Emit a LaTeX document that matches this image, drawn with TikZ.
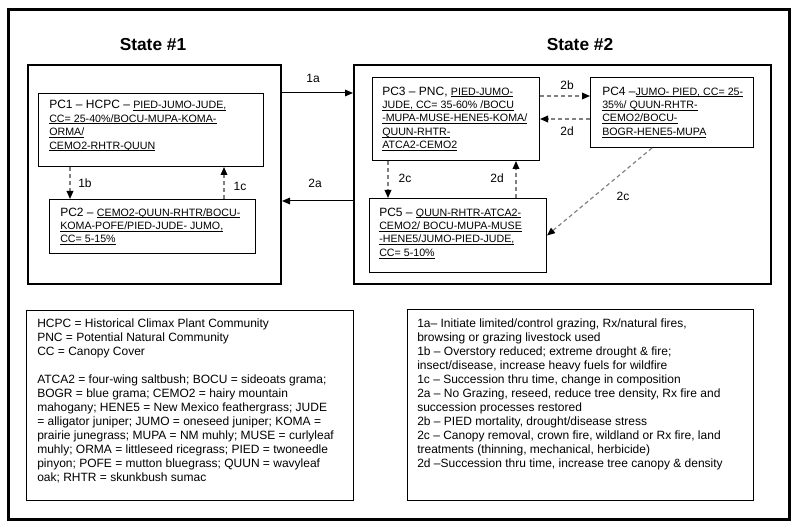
\documentclass[tikz,border=0pt]{standalone}
\usepackage{fontspec}
\setmainfont{Liberation Sans}
\usetikzlibrary{arrows.meta}
\newcommand{\ulx}[1]{\setbox0\hbox{#1}\rlap{\rule[-1.3pt]{\wd0}{0.45pt}}\box0}
\begin{document}
\begin{tikzpicture}[x=0.75pt,y=-0.75pt,
 box/.style={draw, line width=0.75pt, inner sep=0, anchor=north west},
 statebox/.style={draw, line width=1.5pt, inner sep=0, anchor=north west},
 pctext/.style={anchor=north west, inner sep=0, align=left, font=\fontsize{8}{10.1}\selectfont},
 legtext/.style={anchor=north west, inner sep=0, align=left, font=\fontsize{9}{10.5}\selectfont},
 lbl/.style={font=\fontsize{9}{10}\selectfont, inner sep=0},
 titletext/.style={font=\bfseries\fontsize{13}{15}\selectfont, inner sep=0},
 solidarrow/.style={line width=0.75pt, -{Triangle[length=6pt,width=5pt]}},
 dasharrow/.style={draw=black!50, line width=0.9pt, dash pattern=on 3pt off 2.2pt, -{Triangle[length=6pt,width=5pt,color=black]}},
]
\useasboundingbox (0,0) rectangle (800,531);
\draw[line width=2.25pt] (8,10) rectangle (789,519);

% titles
\node[titletext] (st1) at (153,45) {State \#1};
\node[titletext] (st2) at (580,45) {State \#2};

% state boxes
\node[statebox, minimum width=189.75pt, minimum height=164.25pt] (s1) at (27,64) {};
\node[statebox, minimum width=312.75pt, minimum height=164.25pt] (s2) at (353,64) {};

% plant community boxes
\node[box, minimum width=168.75pt, minimum height=54.75pt] (pc1) at (38,93) {};
\node[box, minimum width=154.5pt, minimum height=40.5pt] (pc2) at (49,199) {};
\node[box, minimum width=125.25pt, minimum height=62.25pt] (pc3) at (372,77) {};
\node[box, minimum width=122.25pt, minimum height=52.5pt] (pc4) at (590,77) {};
\node[box, minimum width=132.75pt, minimum height=55.5pt] (pc5) at (369,198) {};

\node[pctext] (t1) at ([shift={(11,7)}]pc1.north west) {{\fontsize{9}{10.1}\selectfont PC1 – HCPC – }\ulx{PIED-JUMO-JUDE,}\\
\ulx{CC= 25-40\%/BOCU-MUPA-KOMA-}\\
\ulx{ORMA/}\\
\ulx{CEMO2-RHTR-QUUN}};

\node[pctext] (t2) at ([shift={(11,8.4)}]pc2.north west) {{\fontsize{9}{10.1}\selectfont PC2 – }\ulx{CEMO2-QUUN-RHTR/BOCU-}\\
\ulx{KOMA-POFE/PIED-JUDE- JUMO,}\\
\ulx{CC= 5-15\%}};

\node[pctext] (t3) at ([shift={(10,9.4)}]pc3.north west) {{\fontsize{9}{10.1}\selectfont PC3 – PNC, }\ulx{PIED-JUMO-}\\
\ulx{JUDE, CC= 35-60\% /BOCU}\\
\ulx{-MUPA-MUSE-HENE5-KOMA/}\\
\ulx{QUUN-RHTR-}\\
\ulx{ATCA2-CEMO2}};

\node[pctext] (t4) at ([shift={(12,9.4)}]pc4.north west) {{\fontsize{9}{10.1}\selectfont PC4 –}\ulx{JUMO- PIED, CC= 25-}\\
\ulx{35\%/ QUUN-RHTR-}\\
\ulx{CEMO2/BOCU-}\\
\ulx{BOGR-HENE5-MUPA}};

\node[pctext] (t5) at ([shift={(10,9.4)}]pc5.north west) {{\fontsize{9}{10.1}\selectfont PC5 – }\ulx{QUUN-RHTR-ATCA2-}\\
\ulx{CEMO2/ BOCU-MUPA-MUSE}\\
\ulx{-HENE5/JUMO-PIED-JUDE,}\\
\ulx{CC= 5-10\%}};

% legends
\node[box, minimum width=245.25pt, minimum height=142.5pt] (l1) at (26,310) {};
\node[box, minimum width=259.5pt, minimum height=143.25pt] (l2) at (407,309) {};

\node[legtext] (lt1) at ([shift={(11,8.4)}]l1.north west) {HCPC = Historical Climax Plant Community\\
PNC = Potential Natural Community\\
CC = Canopy Cover\\[10.5pt]
ATCA2 = four-wing saltbush; BOCU = sideoats grama;\\
BOGR = blue grama; CEMO2 = hairy mountain\\
mahogany; HENE5 = New Mexico feathergrass; JUDE\\
= alligator juniper; JUMO = oneseed juniper; KOMA =\\
prairie junegrass; MUPA = NM muhly; MUSE = curlyleaf\\
muhly; ORMA = littleseed ricegrass; PIED = twoneedle\\
pinyon; POFE = mutton bluegrass; QUUN = wavyleaf\\
oak; RHTR = skunkbush sumac};

\node[legtext] (lt2) at ([shift={(10,9.4)}]l2.north west) {1a– Initiate limited/control grazing, Rx/natural fires,\\
browsing or grazing livestock used\\
1b – Overstory reduced; extreme drought \& fire;\\
insect/disease, increase heavy fuels for wildfire\\
1c – Succession thru time, change in composition\\
2a – No Grazing, reseed, reduce tree density, Rx fire and\\
succession processes restored\\
2b – PIED mortality, drought/disease stress\\
2c – Canopy removal, crown fire, wildland or Rx fire, land\\
treatments (thinning, mechanical, herbicide)\\
2d –Succession thru time, increase tree canopy \& density};

% helper coordinates
\coordinate (y201) at (0,201);
\coordinate (y96) at (0,96);
\coordinate (y119) at (0,119);
\coordinate (x70) at (70,0);
\coordinate (x224) at (224,0);
\coordinate (x388) at (388,0);
\coordinate (x516) at (516,0);
\coordinate (x652) at (652,0);

% connectors
\draw[solidarrow] (s1.east |- pc1.north) -- (s2.west |- pc1.north);
\draw[solidarrow] (s2.west |- y201) -- (s1.east |- y201);
\draw[dasharrow] (pc1.south -| x70) -- (pc2.north -| x70);
\draw[dasharrow] (pc2.north -| x224) -- (pc1.south -| x224);
\draw[dasharrow] (pc3.east |- y96) -- (pc4.west |- y96);
\draw[dasharrow] (pc4.west |- y119) -- (pc3.east |- y119);
\draw[dasharrow] (pc3.south -| x388) -- (pc5.north -| x388);
\draw[dasharrow] (pc5.north -| x516) -- (pc3.south -| x516);
\draw[dasharrow] (pc4.south -| x652) -- (pc5.east);

% connector labels
\node[lbl] (la) at (313,78) {1a};
\node[lbl] (lb) at (315,183) {2a};
\node[lbl] (l1b) at (85,183) {1b};
\node[lbl] (l1c) at (240,186) {1c};
\node[lbl] (l2b) at (567,85) {2b};
\node[lbl] (l2d) at (567,131) {2d};
\node[lbl] (l2c) at (405,178) {2c};
\node[lbl] (l2dd) at (497,178) {2d};
\node[lbl] (l2cc) at (623,196) {2c};
\end{tikzpicture}
\end{document}
